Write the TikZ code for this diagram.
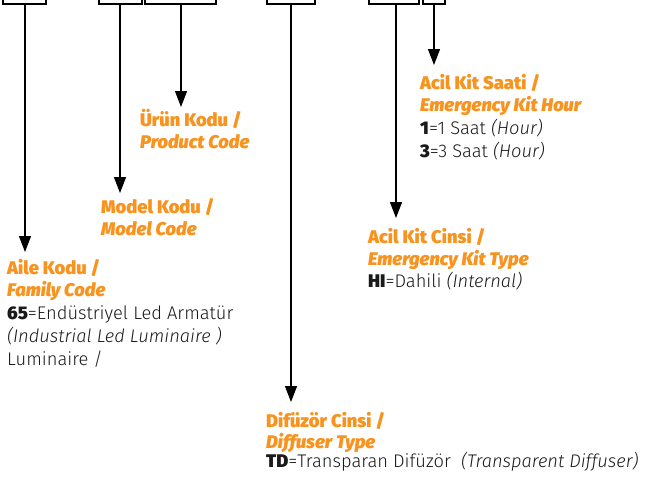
\documentclass[tikz,border=0pt]{standalone}
\usepackage{fontspec}
\setmainfont{Fira Sans}[UprightFont=* Light, ItalicFont=* Light Italic, BoldFont=* Black, BoldItalicFont=* Black Italic]
\usetikzlibrary{arrows.meta}
\definecolor{orng}{HTML}{F7931E}
\definecolor{txt}{HTML}{1A1A1A}
\tikzset{
  codebox/.style={draw=black, line width=2pt, inner sep=0pt},
  conn/.style={line width=1.3pt, -{Triangle[length=16pt,width=12pt]}},
  head/.style={anchor=base west, inner sep=0pt, text=orng, font=\fontsize{18.3}{20}\selectfont\bfseries},
  headit/.style={head, font=\fontsize{18.3}{20}\selectfont\bfseries\itshape},
  body/.style={anchor=base west, inner sep=0pt, text=txt, font=\fontsize{18.3}{20}\selectfont},
}
\begin{document}
\begin{tikzpicture}[x=1pt,y=-1pt]
\useasboundingbox (0,0) rectangle (646,477);
\clip (0,0) rectangle (646,477);
% code boxes (only their lower parts are visible)
\draw[codebox] (3,-20) rectangle (46,4);
\node[coordinate] (b1s) at (25,4) {};
\draw[codebox] (99,-20) rectangle (142,4);
\node[coordinate] (b2s) at (120,4) {};
\draw[codebox] (145,-20) rectangle (216,4);
\node[coordinate] (b3s) at (181,4) {};
\draw[codebox] (267,-20) rectangle (315,4);
\node[coordinate] (b4s) at (291,4) {};
\draw[codebox] (369,-20) rectangle (419,4);
\node[coordinate] (b5s) at (396,4) {};
\draw[codebox] (423,-20) rectangle (445,4);
\node[coordinate] (b6s) at (434,4) {};
% arrow tips
\coordinate (t1) at (25,252);
\coordinate (t2) at (120,193);
\coordinate (t3) at (181,107);
\coordinate (t4) at (291,402);
\coordinate (t5) at (396,218);
\coordinate (t6) at (434,65);
\draw[conn] (b1s) -- (t1);
\draw[conn] (b2s) -- (t2);
\draw[conn] (b3s) -- (t3);
\draw[conn] (b4s) -- (t4);
\draw[conn] (b5s) -- (t5);
\draw[conn] (b6s) -- (t6);
% Acil Kit Saati
\node[head] (saati1) at (420,89) {Acil Kit Saati /};
\node[headit] (saati2) at (420,111) {Emergency Kit Hour};
\node[body] (saati3) at (420,134) {\textbf{1}=1 Saat \textit{(Hour)}};
\node[body] (saati4) at (420,157) {\textbf{3}=3 Saat \textit{(Hour)}};
% Urun Kodu
\node[head] (urun1) at (140,126) {Ürün Kodu /};
\node[headit] (urun2) at (140,148) {Product Code};
% Model Kodu
\node[head] (model1) at (101,213) {Model Kodu /};
\node[headit] (model2) at (101,235) {Model Code};
% Acil Kit Cinsi
\node[head] (cinsi1) at (368,243) {Acil Kit Cinsi /};
\node[headit] (cinsi2) at (368,265) {Emergency Kit Type};
\node[body] (cinsi3) at (368,287) {\textbf{HI}=Dahili \textit{(Internal)}};
% Aile Kodu
\node[head] (aile1) at (7,274) {Aile Kodu /};
\node[headit] (aile2) at (7,296) {Family Code};
\node[body] (aile3) at (7,319) {\textbf{65}=Endüstriyel Led Armatür};
\node[body] (aile4) at (7,342) {\textit{(Industrial Led Luminaire )}};
\node[body] (aile5) at (7,365) {Luminaire /};
% Difuzor Cinsi
\node[head] (dif1) at (266,427) {Difüzör Cinsi /};
\node[headit] (dif2) at (266,448) {Diffuser Type};
\node[body] (dif3) at (266,467) {\textbf{TD}=Transparan Difüzör\ \ \textit{(Transparent Diffuser)}};
\end{tikzpicture}
\end{document}
